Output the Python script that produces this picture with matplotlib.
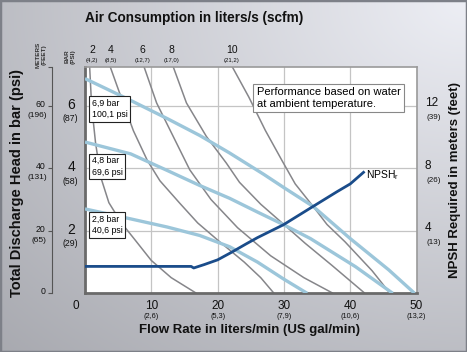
import numpy as np
import matplotlib.pyplot as plt
from matplotlib.transforms import blended_transform_factory

plt.rcParams["font.family"] = ["Liberation Sans", "DejaVu Sans"]

# Air consumption curves (flow l/min, head bar)
air_labels = ["2", "4", "6", "8", "10"]
air_scfm = ["(4,2)", "(8,5)", "(12,7)", "(17,0)", "(21,2)"]
air_label_x = [1.05, 3.9, 8.7, 13.1, 22.1]
air_2_x = [0.7, 1.0, 1.6, 2.4, 3.6, 5.5, 7.5, 10.0, 13.0, 16.8]
air_2_y = [7.25, 6.0, 4.8, 3.7, 2.9, 2.25, 1.72, 1.05, 0.5, 0.0]
air_4_x = [3.8, 5.4, 7.3, 9.4, 11.3, 14.3, 17.0, 20.3, 24.0, 26.5, 28.5]
air_4_y = [7.25, 6.3, 5.2, 4.25, 3.6, 2.88, 2.25, 1.65, 1.0, 0.5, 0.0]
air_6_x = [8.9, 10.8, 13.3, 15.8, 19.0, 23.0, 28.0, 33.0, 37.4]
air_6_y = [7.25, 6.09, 5.02, 3.95, 3.0, 2.1, 1.2, 0.5, 0.0]
air_8_x = [13.3, 15.3, 18.3, 21.3, 23.3, 26.5, 30.0, 33.2, 37.2, 42.2]
air_8_y = [7.25, 6.09, 5.02, 4.17, 3.55, 2.85, 2.2, 1.6, 0.9, 0.0]
air_10_x = [22.2, 24.7, 27.2, 29.7, 31.7, 34.4, 36.5, 39.2, 43.3, 46.0]
air_10_y = [7.25, 6.28, 5.21, 4.25, 3.5, 2.78, 2.2, 1.65, 0.72, 0.0]

# Inlet pressure curves
p69_x = [0, 6.9, 12.4, 17.3, 21.8, 27.0, 30.0, 34.4, 40.0, 45.8, 49.7]
p69_y = [6.87, 6.17, 5.59, 5.05, 4.49, 3.8, 3.38, 2.78, 1.75, 0.75, 0.0]
p48_x = [0, 6.9, 12.4, 17.3, 21.8, 26.0, 29.9, 34.0, 40.8, 46.4]
p48_y = [4.84, 4.46, 3.93, 3.45, 3.04, 2.6, 2.2, 1.75, 0.85, 0.0]
p28_x = [0, 6.9, 12.4, 17.3, 21.8, 26.0, 30.0, 33.5]
p28_y = [2.70, 2.38, 2.12, 1.85, 1.49, 1.0, 0.45, 0.0]
press_labels = ["6,9 bar\n100,1 psi", "4,8 bar\n69,6 psi", "2,8 bar\n40,6 psi"]
press_label_y = [5.9, 4.06, 2.19]

# NPSH required (flow l/min, meters)
npsh_x = [0, 16.0, 16.4, 18.0, 20.0, 22.0, 24.3, 26.0, 29.9, 34.4, 38.0, 40.0, 42.0]
npsh_y = [1.72, 1.72, 1.62, 1.84, 2.14, 2.6, 3.16, 3.56, 4.38, 5.56, 6.5, 7.0, 7.74]

x_ticks = [10, 20, 30, 40, 50]
x_gpm = ["(2,6)", "(5,3)", "(7,9)", "(10,6)", "(13,2)"]
bar_ticks = [2, 4, 6]
bar_psi = ["(29)", "(58)", "(87)"]
m_ticks = [20, 40, 60]
m_feet = ["(65)", "(131)", "(196)"]
npsh_ticks = [4, 8, 12]
npsh_feet = ["(13)", "(26)", "(39)"]

fig = plt.figure(figsize=(4.67, 3.52), dpi=100)

# gradient background
bg = fig.add_axes([0, 0, 1, 1], zorder=-10)
u, v = np.meshgrid(np.linspace(0, 1, 200), np.linspace(0, 1, 150))
d = np.sqrt((1 - u) ** 2 + (1 - v) ** 2) / np.sqrt(2)
c = 0.93 - 0.27 * d
img = np.dstack([c, c + 0.005, c + 0.03]).clip(0, 1)
bg.imshow(img, extent=[0, 1, 0, 1], origin="lower", aspect="auto")
bg.add_patch(plt.Rectangle((0, 0), 1, 1, fill=False, ec="#7d8088", lw=2.5))
bg.set_xlim(0, 1)
bg.set_ylim(0, 1)
bg.axis("off")

ax = fig.add_axes([0.182, 0.1668, 0.710, 0.6437])
ax.set_xlim(0, 50)
ax.set_ylim(0, 7.25)
ax.set_facecolor("white")
for g in x_ticks[:-1]:
    ax.axvline(g, color="#c4c4c4", lw=0.9, zorder=1)
for g in bar_ticks:
    ax.axhline(g, color="#c4c4c4", lw=0.9, zorder=1)

gray = "#86868a"
for xs, ys in [(air_2_x, air_2_y), (air_4_x, air_4_y), (air_6_x, air_6_y),
               (air_8_x, air_8_y), (air_10_x, air_10_y)]:
    ax.plot(xs, ys, color=gray, lw=1.1, zorder=2, solid_capstyle="butt")

blue = "#9cc6da"
for xs, ys in [(p69_x, p69_y), (p48_x, p48_y), (p28_x, p28_y)]:
    ax.plot(xs, ys, color=blue, lw=2.4, zorder=3, solid_capstyle="butt")

for lab, yy in zip(press_labels, press_label_y):
    ax.text(1.0, yy, lab, fontsize=6.3, va="center", ha="left", zorder=6,
            linespacing=1.35,
            bbox=dict(boxstyle="square,pad=0.3", fc="white", ec="#222222", lw=0.8))

ax.text(25.9, 6.25, "Performance based on water\nat ambient temperature.",
        fontsize=8.0, va="center", ha="left", zorder=6, linespacing=1.2,
        bbox=dict(boxstyle="square,pad=0.3", fc="white", ec="#888888", lw=0.8))

for s in ["left", "bottom"]:
    ax.spines[s].set_color("#6a6a6a")
    ax.spines[s].set_linewidth(2.0)
for s in ["top", "right"]:
    ax.spines[s].set_color("#9a9a9a")
    ax.spines[s].set_linewidth(1.2)
ax.set_xticks([])
ax.set_yticks([])

ax2 = ax.twinx()
ax2.set_ylim(0, 14.5)
ax2.plot(npsh_x, npsh_y, color="#1a4c8a", lw=2.0, zorder=5)
ax2.text(npsh_x[-1] + 0.3, npsh_y[-1] - 0.15, "NPSH$_\\mathregular{r}$",
         fontsize=7.5, va="center", ha="left")
ax2.set_yticks([])
for s in ax2.spines.values():
    s.set_visible(False)

# meters axis
sec = ax.secondary_yaxis(-0.1, functions=(lambda b: b * 10, lambda m: m / 10))
sec.set_yticks([0, 20, 40, 60, 72.5])
sec.set_yticklabels([])
sec.tick_params(direction="out", length=3, color="#555555", width=0.8)
sec.spines["left"].set_color("#555555")
sec.spines["left"].set_linewidth(0.8)

dark = "#111111"
tx = blended_transform_factory(ax.transData, ax.transAxes)
ty = blended_transform_factory(ax.transAxes, ax.transData)

# bottom ticks
ax.text(-1.4, -0.03, "0", transform=tx, fontsize=8.5, ha="center", va="top", color=dark)
for xv, g in zip(x_ticks, x_gpm):
    ax.text(xv, -0.03, str(xv), transform=tx, fontsize=8.5, ha="center", va="top", color=dark)
    ax.text(xv, -0.085, g, transform=tx, fontsize=5.3, ha="center", va="top", color=dark)

# top air ticks
for xv, lab, sc in zip(air_label_x, air_labels, air_scfm):
    ax.text(xv, 1.05, lab, transform=tx, fontsize=7.5, ha="center", va="bottom", color=dark)
    ax.text(xv, 1.015, sc, transform=tx, fontsize=4.3, ha="center", va="bottom", color=dark)

# bar ticks
for yv, p in zip(bar_ticks, bar_psi):
    ax.text(-0.03, yv + 0.03, str(yv), transform=ty, fontsize=10, ha="right", va="center", color=dark)
    ax.text(-0.022, yv - 0.42, p, transform=ty, fontsize=6.3, ha="right", va="center", color=dark)

# meters ticks
for yv, mv, ft in zip(bar_ticks, m_ticks, m_feet):
    ax.text(-0.12, yv + 0.05, str(mv), transform=ty, fontsize=6.3, ha="right", va="center", color=dark)
    ax.text(-0.115, yv - 0.3, ft, transform=ty, fontsize=6.0, ha="right", va="center", color=dark)
ax.text(-0.12, 0.05, "0", transform=ty, fontsize=6.3, ha="right", va="center", color=dark)

# NPSH ticks
for yv, nv, ft in zip(bar_ticks, npsh_ticks, npsh_feet):
    ax.text(1.025, yv + 0.08, str(nv), transform=ty, fontsize=8.5, ha="left", va="center", color=dark)
    ax.text(1.03, yv - 0.38, ft, transform=ty, fontsize=5.8, ha="left", va="center", color=dark)

fig.text(0.088, 0.845, "METERS\n(FEET)", rotation=90, fontsize=4.6, fontweight="bold",
         ha="center", va="center", color="#333333", linespacing=1.1)
fig.text(0.15, 0.84, "BAR\n(PSI)", rotation=90, fontsize=4.6, fontweight="bold",
         ha="center", va="center", color="#333333", linespacing=1.1)

fig.text(0.182, 0.948, "Air Consumption in liters/s (scfm)", fontsize=9.8,
         fontweight="bold", ha="left", va="center", color=dark)
fig.text(0.535, 0.062, "Flow Rate in liters/min (US gal/min)", fontsize=9.5,
         fontweight="bold", ha="center", va="center", color=dark)
fig.text(0.037, 0.48, "Total Discharge Head in bar (psi)", fontsize=10.5,
         fontweight="bold", rotation=90, ha="center", va="center", color=dark)
fig.text(0.975, 0.49, "NPSH Required in meters (feet)", fontsize=9.5,
         fontweight="bold", rotation=90, ha="center", va="center", color=dark)

fig.savefig("out.png", dpi=100)
